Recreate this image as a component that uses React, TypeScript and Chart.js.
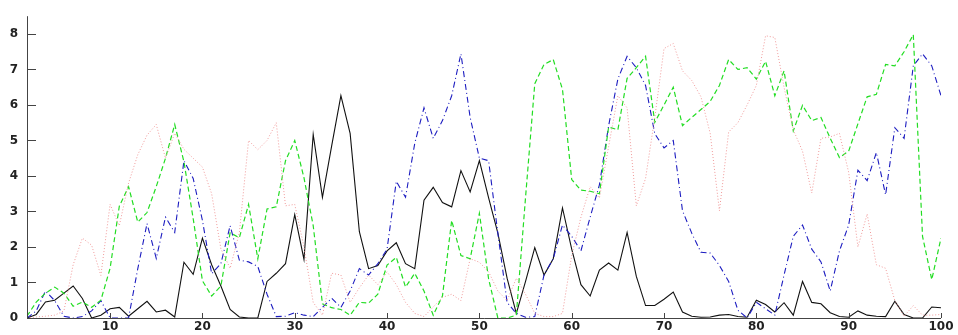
import React, { useEffect, useRef } from "react";
import { Chart, registerables } from "chart.js";

Chart.register(...registerables);

const X = [
  1, 2, 3, 4, 5, 6, 7, 8, 9, 10, 11, 12, 13, 14, 15, 16, 17, 18, 19, 20,
  21, 22, 23, 24, 25, 26, 27, 28, 29, 30, 31, 32, 33, 34, 35, 36, 37, 38, 39, 40,
  41, 42, 43, 44, 45, 46, 47, 48, 49, 50, 51, 52, 53, 54, 55, 56, 57, 58, 59, 60,
  61, 62, 63, 64, 65, 66, 67, 68, 69, 70, 71, 72, 73, 74, 75, 76, 77, 78, 79, 80,
  81, 82, 83, 84, 85, 86, 87, 88, 89, 90, 91, 92, 93, 94, 95, 96, 97, 98, 99, 100,
];

const X_TICKS = [10, 20, 30, 40, 50, 60, 70, 80, 90, 100];
const Y_TICKS = [0, 1, 2, 3, 4, 5, 6, 7, 8];

const BLACK = [
  0, 0.1, 0.45, 0.5, 0.7, 0.9, 0.55, 0, 0.08, 0.26,
  0.3, 0.05, 0.26, 0.47, 0.17, 0.22, 0.03, 1.57, 1.23, 2.25,
  1.5, 0.9, 0.24, 0.03, 0, 0, 1.03, 1.26, 1.53, 2.91,
  1.65, 5.17, 3.4, 4.85, 6.26, 5.2, 2.43, 1.39, 1.48, 1.89,
  2.12, 1.53, 1.39, 3.32, 3.68, 3.25, 3.13, 4.15, 3.55, 4.43,
  3.38, 2.39, 1.12, 0.13, 1.03, 1.98, 1.21, 1.67, 3.1, 1.94,
  0.94, 0.62, 1.35, 1.55, 1.35, 2.41, 1.17, 0.35, 0.35, 0.53,
  0.73, 0.17, 0.05, 0.02, 0.03, 0.08, 0.1, 0.04, 0.02, 0.5,
  0.38, 0.17, 0.43, 0.08, 1.03, 0.44, 0.4, 0.15, 0.04, 0.02,
  0.2, 0.08, 0.05, 0.04, 0.47, 0.1, 0, 0, 0.31, 0.29,
];

const BLUE = [
  0, 0.2, 0.76, 0.49, 0.05, 0, 0.04, 0.2, 0.49, 0,
  0, 0, 1.39, 2.66, 1.68, 2.84, 2.41, 4.43, 3.93, 2.75,
  1.25, 1.53, 2.6, 1.63, 1.58, 1.45, 0.67, 0.04, 0.05, 0.15,
  0.08, 0.04, 0.3, 0.56, 0.3, 0.76, 1.39, 1.21, 1.53, 1.94,
  3.85, 3.4, 4.92, 5.92, 5.06, 5.56, 6.26, 7.44, 5.65, 4.5,
  4.43, 2.39, 0.44, 0.13, 0.02, 0.04, 1.21, 1.67, 2.62, 2.3,
  1.89, 2.84, 3.75, 5.42, 6.73, 7.37, 7.05, 6.55, 5.19, 4.79,
  5.0, 3.02, 2.39, 1.85, 1.83, 1.48, 1.03, 0.22, 0, 0.44,
  0.26, 0.08, 1.21, 2.3, 2.62, 1.94, 1.58, 0.76, 1.89, 2.62,
  4.16, 3.87, 4.66, 3.47, 5.36, 5.06, 7.1, 7.44, 7.1, 6.26,
];

const GREEN = [
  0.05, 0.45, 0.7, 0.87, 0.7, 0.33, 0.45, 0.3, 0.5, 1.4,
  3.15, 3.7, 2.7, 2.97, 3.7, 4.5, 5.45, 4.4, 2.8, 1.05,
  0.62, 0.9, 2.4, 2.26, 3.2, 1.67, 3.07, 3.13, 4.43, 5.0,
  3.95, 2.6, 0.4, 0.29, 0.24, 0.08, 0.44, 0.42, 0.67, 1.49,
  1.71, 0.87, 1.26, 0.76, 0.08, 0.62, 2.75, 1.76, 1.67, 2.95,
  1.1, 0, 0, 0.08, 3.4, 6.6, 7.14, 7.28, 6.44, 3.9,
  3.6, 3.57, 3.5, 5.38, 5.3, 6.75, 7.05, 7.37, 5.51, 6.0,
  6.5, 5.42, 5.65, 5.87, 6.1, 6.55, 7.28, 7.0, 7.05, 6.73,
  7.23, 6.26, 6.96, 5.27, 5.99, 5.56, 5.65, 5.06, 4.52, 4.7,
  5.47, 6.23, 6.3, 7.14, 7.1, 7.5, 7.98, 2.3, 1.08, 2.25,
];

const RED = [
  0, 0.03, 0.05, 0.08, 0.2, 1.5, 2.25, 2.05, 1.2, 3.2,
  2.6, 3.8, 4.6, 5.15, 5.45, 4.5, 5.2, 4.75, 4.5, 4.25,
  3.5, 1.95, 1.4, 2.4, 5.0, 4.74, 5.0, 5.5, 3.16, 3.2,
  2.0, 0.44, 0.08, 1.26, 1.21, 0.44, 0.85, 1.21, 0.94, 1.3,
  0.94, 0.44, 0.13, 0.04, 0.31, 0.58, 0.67, 0.49, 1.67, 1.57,
  1.3, 0.76, 0.49, 1.12, 0.67, 0.13, 0.04, 0.04, 0.13, 1.76,
  2.84, 3.7, 3.38, 4.83, 6.26, 5.92, 3.16, 3.93, 5.65, 7.59,
  7.73, 6.96, 6.69, 6.23, 5.2, 3.02, 5.24, 5.5, 6.0, 6.55,
  7.95, 7.9, 6.5, 5.3, 4.7, 3.52, 5.06, 5.1, 5.2, 4.1,
  2.0, 2.93, 1.5, 1.4, 0.49, 0.05, 0.35, 0.08, 0.08, 0.1,
];

const axisPlugin = {
  id: "matlabAxes",
  afterDraw(chart: any) {
    const { ctx, chartArea, scales } = chart;
    const xs = scales.x;
    const ys = scales.y;
    ctx.save();
    ctx.strokeStyle = "#444";
    ctx.lineWidth = 1;
    ctx.beginPath();
    ctx.moveTo(chartArea.left + 0.5, chartArea.top);
    ctx.lineTo(chartArea.left + 0.5, chartArea.bottom + 0.5);
    ctx.lineTo(chartArea.right, chartArea.bottom + 0.5);
    for (const v of Y_TICKS) {
      const y = Math.round(ys.getPixelForValue(v)) + 0.5;
      ctx.moveTo(chartArea.left, y);
      ctx.lineTo(chartArea.left + 9, y);
    }
    for (const v of X_TICKS) {
      const x = Math.round(xs.getPixelForValue(v)) + 0.5;
      ctx.moveTo(x, chartArea.bottom);
      ctx.lineTo(x, chartArea.bottom - 5);
    }
    ctx.stroke();
    ctx.restore();
  },
};

export default function App() {
  const ref = useRef<HTMLCanvasElement | null>(null);

  useEffect(() => {
    if (!ref.current) return;
    const mk = (data: number[], color: string, dash: number[], w: number) => ({
      data,
      borderColor: color,
      backgroundColor: color,
      borderWidth: w,
      borderDash: dash,
      pointRadius: 0,
      tension: 0,
      fill: false,
    });
    const chart = new Chart(ref.current, {
      type: "line",
      data: {
        labels: X,
        datasets: [
          mk(RED, "#f09a9a", [1, 2], 1),
          mk(GREEN, "#22dd22", [5, 3], 1.2),
          mk(BLUE, "#1c1cc0", [6, 3, 1, 3], 1.1),
          mk(BLACK, "#111111", [], 1.1),
        ],
      },
      options: {
        responsive: false,
        animation: false,
        events: [],
        layout: { padding: { top: 5, right: 17, left: 0, bottom: 0 } },
        plugins: { legend: { display: false }, tooltip: { enabled: false } },
        scales: {
          x: {
            type: "linear",
            min: 1,
            max: 100,
            grid: { display: false, drawTicks: false },
            border: { display: false },
            afterFit: (s: any) => {
              s.height = 17;
            },
            afterBuildTicks: (s: any) => {
              s.ticks = X_TICKS.map((v) => ({ value: v }));
            },
            ticks: {
              padding: 2,
              maxRotation: 0,
              autoSkip: false,
              color: "#222",
              font: { family: "DejaVu Sans", size: 12, weight: "bold" },
            },
          },
          y: {
            min: 0,
            max: 8.5,
            grid: { display: false, drawTicks: false },
            border: { display: false },
            afterFit: (s: any) => {
              s.width = 27;
            },
            afterBuildTicks: (s: any) => {
              s.ticks = Y_TICKS.map((v) => ({ value: v }));
            },
            ticks: {
              padding: 9,
              color: "#222",
              font: { family: "DejaVu Sans", size: 12, weight: "bold" },
            },
          },
        },
      },
      plugins: [axisPlugin],
    });
    return () => chart.destroy();
  }, []);

  return (
    <div style={{ position: "fixed", left: 0, top: 0, width: 958, height: 335, background: "#fff" }}>
      <canvas ref={ref} width={958} height={335} />
    </div>
  );
}
